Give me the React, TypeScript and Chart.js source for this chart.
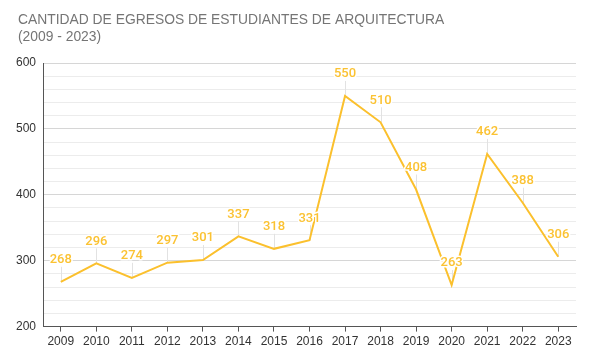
import React, { useEffect, useRef } from "react";
import { Chart, registerables } from "chart.js";

Chart.register(...registerables);

const years = ["2009","2010","2011","2012","2013","2014","2015","2016","2017","2018","2019","2020","2021","2022","2023"];
const egresos = [268, 296, 274, 297, 301, 337, 318, 331, 550, 510, 408, 263, 462, 388, 306];
const titleLines = ["CANTIDAD DE EGRESOS DE ESTUDIANTES DE ARQUITECTURA", "(2009 - 2023)"];

const LINE_COLOR = "#fbc02d";
const LABEL_COLOR = "#fbc232";

const titlePlugin = {
  id: "customTitle",
  afterDraw(chart: any) {
    const ctx = chart.ctx;
    ctx.save();
    ctx.font = "13.85px 'Liberation Sans', Arial, sans-serif";
    ctx.fillStyle = "#757575";
    ctx.textBaseline = "middle";
    ctx.textAlign = "left";
    titleLines.forEach((t, i) => ctx.fillText(t, 18, 20 + i * 17));
    ctx.restore();
  },
};

const labelPlugin = {
  id: "pointLabels",
  beforeDatasetsDraw(chart: any) {
    const ctx = chart.ctx;
    const meta = chart.getDatasetMeta(0);
    ctx.save();
    ctx.strokeStyle = "#e2e2e2";
    ctx.lineWidth = 1;
    meta.data.forEach((pt: any) => {
      const x = Math.round(pt.x) + 0.5;
      ctx.beginPath();
      ctx.moveTo(x, pt.y - 15);
      ctx.lineTo(x, pt.y);
      ctx.stroke();
    });
    ctx.restore();
  },
  afterDatasetsDraw(chart: any) {
    const ctx = chart.ctx;
    const meta = chart.getDatasetMeta(0);
    const data = chart.data.datasets[0].data;
    ctx.save();
    ctx.font = "500 13px Roboto, Arial, sans-serif";
    ctx.textAlign = "center";
    ctx.textBaseline = "middle";
    ctx.lineJoin = "round";
    meta.data.forEach((pt: any, i: number) => {
      const y = pt.y - 22;
      ctx.strokeStyle = "#ffffff";
      ctx.lineWidth = 3;
      ctx.strokeText(String(data[i]), pt.x, y);
      ctx.fillStyle = LABEL_COLOR;
      ctx.fillText(String(data[i]), pt.x, y);
    });
    ctx.restore();
  },
};

export default function App() {
  const ref = useRef<HTMLCanvasElement>(null);
  useEffect(() => {
    if (!ref.current) return;
    const chart = new Chart(ref.current, {
      type: "line",
      data: {
        labels: years,
        datasets: [
          {
            data: egresos,
            borderColor: LINE_COLOR,
            backgroundColor: LINE_COLOR,
            borderWidth: 2,
            pointRadius: 0,
            pointHoverRadius: 0,
            tension: 0,
            fill: false,
          },
        ],
      },
      options: {
        animation: false,
        responsive: true,
        maintainAspectRatio: false,
        layout: { padding: { top: 63, left: 9, right: 13, bottom: 9 } },
        plugins: {
          legend: { display: false },
          title: { display: false },
          tooltip: { enabled: false },
        },
        scales: {
          x: {
            offset: true,
            grid: {
              display: true,
              drawOnChartArea: false,
              drawTicks: true,
              tickLength: 5,
              color: "#555555",
              offset: false,
            },
            border: { display: true, color: "#555555", width: 1 },
            ticks: {
              color: "#333333",
              font: { size: 12, family: "'Liberation Sans', Arial, sans-serif" },
              padding: 3,
              maxRotation: 0,
              autoSkip: false,
            },
          },
          y: {
            min: 200,
            max: 600,
            grid: {
              drawTicks: false,
              color: (c: any) => (c.tick && c.tick.value % 100 === 0 ? "#d6d6d6" : "#ececec"),
              lineWidth: 1,
            },
            border: { display: true, color: "#555555", width: 1 },
            ticks: {
              stepSize: 20,
              padding: 7,
              autoSkip: false,
              color: "#333333",
              font: { size: 12, family: "'Liberation Sans', Arial, sans-serif" },
              callback: (v: any) => (Number(v) % 100 === 0 ? String(v) : ""),
            },
          },
        },
      },
      plugins: [titlePlugin, labelPlugin],
    });
    return () => chart.destroy();
  }, []);
  return (
    <div style={{ position: "absolute", left: 0, top: 0, width: 589, height: 361 }}>
      <canvas ref={ref} />
    </div>
  );
}
